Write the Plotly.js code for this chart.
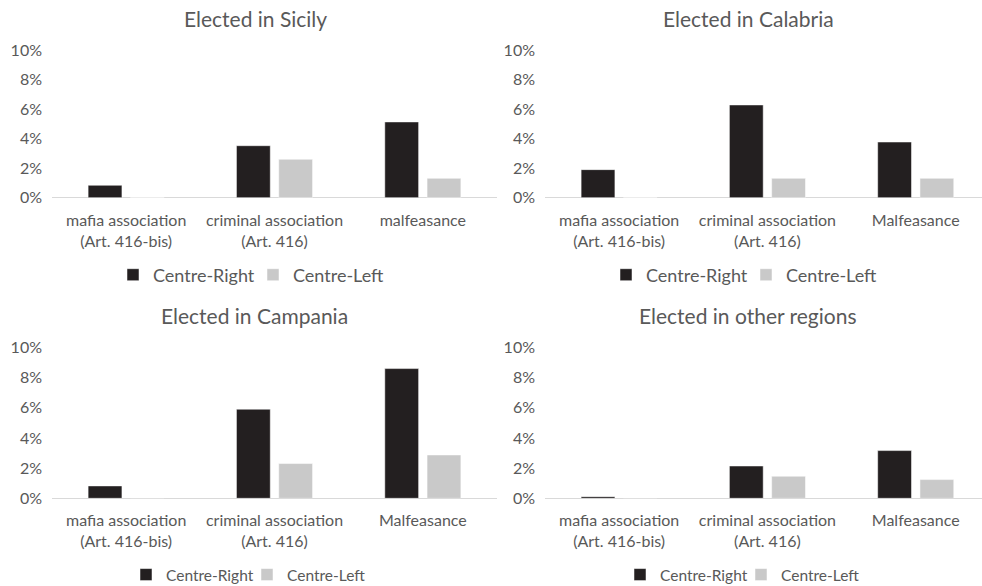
<!DOCTYPE html>
<html>
<head>
<meta charset="utf-8">
<script src="https://cdn.plot.ly/plotly-3.0.1.min.js"></script>
<style>html,body{margin:0;padding:0;background:#fff;}#chart{width:982px;height:586px;}</style>
</head>
<body>
<div id="chart"></div>
<script>
// Category tick labels per panel
const catsSicily   = ["mafia association<br>(Art. 416-bis)", "criminal association<br>(Art. 416)", "malfeasance"];
const catsCalabria = ["mafia association<br>(Art. 416-bis)", "criminal association<br>(Art. 416)", "Malfeasance"];
const catsCampania = ["mafia association<br>(Art. 416-bis)", "criminal association<br>(Art. 416)", "Malfeasance"];
const catsOther    = ["mafia association<br>(Art. 416-bis)", "criminal association<br>(Art. 416)", "Malfeasance"];

// Values in percent
const sicilyRight   = [0.84, 3.52, 5.13];
const sicilyLeft    = [0, 2.60, 1.31];
const calabriaRight = [1.90, 6.28, 3.77];
const calabriaLeft  = [0, 1.31, 1.31];
const campaniaRight = [0.82, 5.90, 8.59];
const campaniaLeft  = [0, 2.30, 2.87];
const otherRight    = [0.11, 2.14, 3.16];
const otherLeft     = [0, 1.46, 1.24];

const panelTitles = ["Elected in Sicily", "Elected in Calabria", "Elected in Campania", "Elected in other regions"];
const seriesNames = ["Centre-Right", "Centre-Left"];
const yTicks = [0, 2, 4, 6, 8, 10];
const yTickText = ["0%", "2%", "4%", "6%", "8%", "10%"];

const FONT = "Lato, 'Open Sans', sans-serif";
const TXT = "#595959";
const C_RIGHT = "#231f20";
const C_LEFT = "#c9c9c9";

const panels = [
  {cats: catsSicily,   r: sicilyRight,   l: sicilyLeft,   xa: "x",  ya: "y",  leg: "legend"},
  {cats: catsCalabria, r: calabriaRight, l: calabriaLeft, xa: "x2", ya: "y2", leg: "legend2"},
  {cats: catsCampania, r: campaniaRight, l: campaniaLeft, xa: "x3", ya: "y3", leg: "legend3"},
  {cats: catsOther,    r: otherRight,    l: otherLeft,    xa: "x4", ya: "y4", leg: "legend4"}
];

const data = [];
panels.forEach((p, i) => {
  data.push({type: "bar", x: [0,1,2], y: p.r, name: seriesNames[0], xaxis: p.xa, yaxis: p.ya, legend: p.leg,
    marker: {color: C_RIGHT, line: {color: "#ffffff", width: 0.5}}, hoverinfo: "none"});
  data.push({type: "bar", x: [0,1,2], y: p.l, name: seriesNames[1], xaxis: p.xa, yaxis: p.ya, legend: p.leg,
    marker: {color: C_LEFT, line: {color: "#ffffff", width: 0.5}}, hoverinfo: "none"});
});

function xax(dom, range, anchor, cats) {
  return {domain: dom, range: range, anchor: anchor, tickmode: "array", tickvals: [0,1,2], ticktext: cats,
    showgrid: false, zeroline: false, showline: false, ticks: "", fixedrange: true, automargin: false,
    tickfont: {family: FONT, size: 16, color: TXT}, ticklabelstandoff: 11};
}
function yax(dom, anchor) {
  return {domain: dom, range: [0, 10], anchor: anchor, tickmode: "array", tickvals: yTicks, ticktext: yTickText,
    showgrid: false, zeroline: true, zerolinecolor: "#d9d9d9", zerolinewidth: 1.5, showline: false, ticks: "",
    fixedrange: true, automargin: false, tickfont: {family: FONT, size: 16, color: TXT}, ticklabelstandoff: 9};
}

const xL = [52/982, 497/982], xR = [545/982, 1];
const yT = [1 - 197.7/586, 1 - 50/586], yB = [1 - 498.3/586, 1 - 347.3/586];

function leg(xl, yc, size, ew) {
  return {orientation: "h", x: xl/982, xanchor: "left", y: 1 - yc/586, yanchor: "middle",
    entrywidth: ew, entrywidthmode: "pixels", indentation: -12,
    font: {family: FONT, size: size, color: TXT}, bgcolor: "rgba(0,0,0,0)", itemclick: false, itemdoubleclick: false,
    traceorder: "normal"};
}

const titlePos = [[255, 18], [748, 18], [254, 315], [748, 315]];
const annotations = panelTitles.map((t, i) => ({
  text: t, x: titlePos[i][0]/982, y: 1 - titlePos[i][1]/586, xref: "paper", yref: "paper",
  xanchor: "center", yanchor: "middle", showarrow: false, font: {family: FONT, size: 21, color: TXT}
}));

const layout = {
  width: 982, height: 586, margin: {l: 0, r: 0, t: 0, b: 0, autoexpand: false},
  paper_bgcolor: "#ffffff", plot_bgcolor: "#ffffff",
  barmode: "group", bargap: 0.43, bargroupgap: 0.2,
  showlegend: true,
  xaxis: xax(xL, [-0.5, 2.5], "y", catsSicily),
  yaxis: yax(yT, "x"),
  xaxis2: xax(xR, [-0.5, 2.447], "y2", catsCalabria),
  yaxis2: yax(yT, "x2"),
  xaxis3: xax(xL, [-0.5, 2.5], "y3", catsCampania),
  yaxis3: yax(yB, "x3"),
  xaxis4: xax(xR, [-0.5, 2.447], "y4", catsOther),
  yaxis4: yax(yB, "x4"),
  legend: leg(125, 275, 18, 107),
  legend2: leg(618, 275, 18, 107),
  legend3: leg(138, 575, 15.5, 88),
  legend4: leg(632, 575, 15.5, 88),
  annotations: annotations
};

Plotly.newPlot("chart", data, layout, {displayModeBar: false, staticPlot: true});
</script>
</body>
</html>
